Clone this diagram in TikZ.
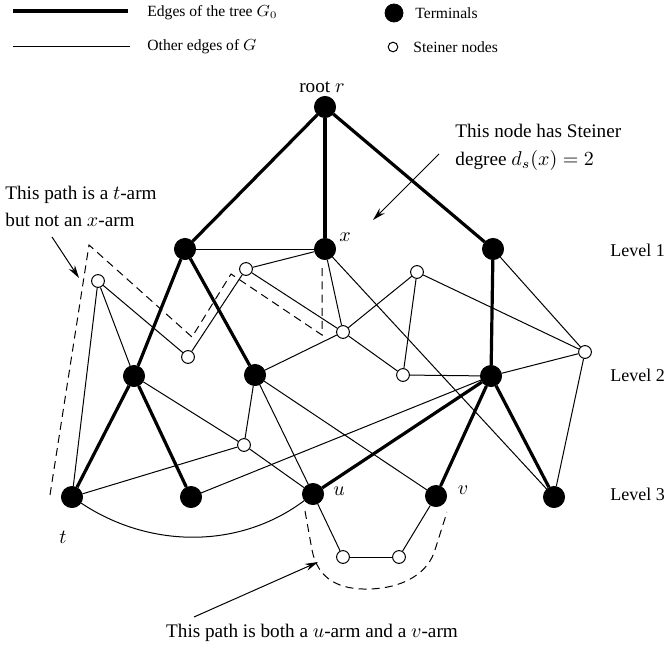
\documentclass[tikz,border=0pt]{standalone}
\usepackage{fontspec}
\setmainfont{Liberation Serif}
\usetikzlibrary{arrows.meta}
\begin{document}
\begin{tikzpicture}[x=0.5pt,y=-0.5pt,
  term/.style={circle,fill=black,draw=black,line width=0.4pt,minimum size=10.6pt,inner sep=0pt},
  stn/.style={circle,fill=white,draw=black,line width=0.5pt,minimum size=6.4pt,inner sep=0pt},
  legterm/.style={circle,fill=black,draw=black,line width=0.4pt,minimum size=9pt,inner sep=0pt},
  legstn/.style={circle,fill=white,draw=black,line width=0.5pt,minimum size=4.8pt,inner sep=0pt},
  tree/.style={line width=1.6pt},
  oth/.style={line width=0.5pt},
  arm/.style={line width=0.5pt,dash pattern=on 4pt off 2.6pt},
  lbl/.style={font=\fontsize{9.6}{11.5}\selectfont,inner sep=0pt},
  levlbl/.style={font=\fontsize{9}{11}\selectfont,inner sep=0pt},
  leglbl/.style={font=\fontsize{7.8}{9.4}\selectfont,inner sep=0pt},
  pointer/.style={line width=0.5pt,-{Stealth[length=6.5pt,width=3.6pt]}}]
\useasboundingbox (0,0) rectangle (668,647);

% legend
\coordinate (l1a) at (13,11); \coordinate (l1b) at (128,11);
\coordinate (l2a) at (13,47); \coordinate (l2b) at (130,47);
\draw[tree] (l1a) -- (l1b);
\draw[oth] (l2a) -- (l2b);
\node[leglbl,anchor=west] (legA) at (147,13) {Edges of the tree $G_0$};
\node[leglbl,anchor=west] (legB) at (147,47) {Other edges of $G$};
\node[legterm] (legT) at (394,13) {};
\node[legstn] (legS) at (393,47) {};
\node[leglbl,anchor=west] (legC) at (415,13) {Terminals};
\node[leglbl,anchor=west] (legD) at (413,47) {Steiner nodes};

% terminals
\node[term] (r) at (325,107) {};
\node[term] (a) at (185,249) {};
\node[term] (x) at (325,249) {};
\node[term] (c) at (493,249) {};
\node[term] (d) at (134,376) {};
\node[term] (e) at (255,375) {};
\node[term] (f) at (491,376) {};
\node[term] (t) at (72,497) {};
\node[term] (g) at (191,497) {};
\node[term] (u) at (313,494) {};
\node[term] (v) at (436,496) {};
\node[term] (h) at (554,497) {};

% steiner nodes
\node[stn] (s1) at (98,281) {};
\node[stn] (s2) at (246,269) {};
\node[stn] (s3) at (188,357) {};
\node[stn] (s4) at (343,332) {};
\node[stn] (s5) at (417,272) {};
\node[stn] (s6) at (403,375) {};
\node[stn] (s7) at (585,352) {};
\node[stn] (s8) at (244,445) {};
\node[stn] (s9) at (343,557) {};
\node[stn] (s10) at (399,557) {};

% tree edges
\draw[tree] (r) -- (a);
\draw[tree] (r) -- (x);
\draw[tree] (r) -- (c);
\draw[tree] (a) -- (d);
\draw[tree] (a) -- (e);
\draw[tree] (c) -- (f);
\draw[tree] (d) -- (t);
\draw[tree] (d) -- (g);
\draw[tree] (f) -- (u);
\draw[tree] (f) -- (v);
\draw[tree] (f) -- (h);

% other edges
\draw[oth] (a) -- (x);
\draw[oth] (x) -- (s2);
\draw[oth] (x) -- (s4);
\draw[oth] (x) -- (h);
\draw[oth] (s2) -- (s4);
\draw[oth] (s2) -- (s3);
\draw[oth] (s1) -- (s3);
\draw[oth] (s1) -- (t);
\draw[oth] (s1) -- (d);
\draw[oth] (d) -- (s8);
\draw[oth] (t) -- (s8);
\draw[oth] (e) -- (s8);
\draw[oth] (s8) -- (u);
\draw[oth] (e) -- (s4);
\draw[oth] (e) -- (u);
\draw[oth] (e) -- (v);
\draw[oth] (g) -- (f);
\draw[oth] (s4) -- (s5);
\draw[oth] (s4) -- (s6);
\draw[oth] (s5) -- (s6);
\draw[oth] (s5) -- (s7);
\draw[oth] (c) -- (s7);
\draw[oth] (s6) -- (f);
\draw[oth] (f) -- (s7);
\draw[oth] (s7) -- (h);
\draw[oth] (u) -- (s9);
\draw[oth] (s9) -- (s10);
\draw[oth] (s10) -- (v);
\draw[oth] (t) .. controls (150,549) and (240,549) .. (u);

% dashed arms
\draw[arm] (50,495) -- (89,245) -- (192,337) -- (231,274) -- (322,335) -- (322,268);
\draw[arm] (305,511) -- (312,550) .. controls (318,580) and (340,590) .. (370,589)
  .. controls (400,588) and (425,576) .. (434,553) -- (447,512);

% labels
\node[lbl] (rootlbl) at (322,87) {root $r$};
\node[lbl] (xlbl) at (345,237) {$x$};
\node[lbl] (ulbl) at (339,491) {$u$};
\node[lbl] (vlbl) at (463,490) {$v$};
\node[lbl] (tlbl) at (63,537) {$t$};
\node[levlbl,anchor=west] (lev1) at (610,250) {Level 1};
\node[levlbl,anchor=west] (lev2) at (610,375) {Level 2};
\node[levlbl,anchor=west] (lev3) at (610,494) {Level 3};

\node[lbl,anchor=west,align=left] (note1) at (455,147) {This node has Steiner\\[2.5pt]degree $d_s(x)=2$};
\node[lbl,anchor=west,align=left] (note2) at (5,206) {This path is a $t$-arm\\[2pt]but not an $x$-arm};
\node[lbl] (note3) at (312,633) {This path is both a $u$-arm and a $v$-arm};

\coordinate (p1s) at (439,154); \coordinate (p1e) at (373,220);
\coordinate (p2s) at (52,237); \coordinate (p2e) at (79,278);
\coordinate (p3s) at (194,617); \coordinate (p3e) at (318,562);
\draw[pointer] (p1s) -- (p1e);
\draw[pointer] (p2s) -- (p2e);
\draw[pointer] (p3s) -- (p3e);
\end{tikzpicture}
\end{document}
